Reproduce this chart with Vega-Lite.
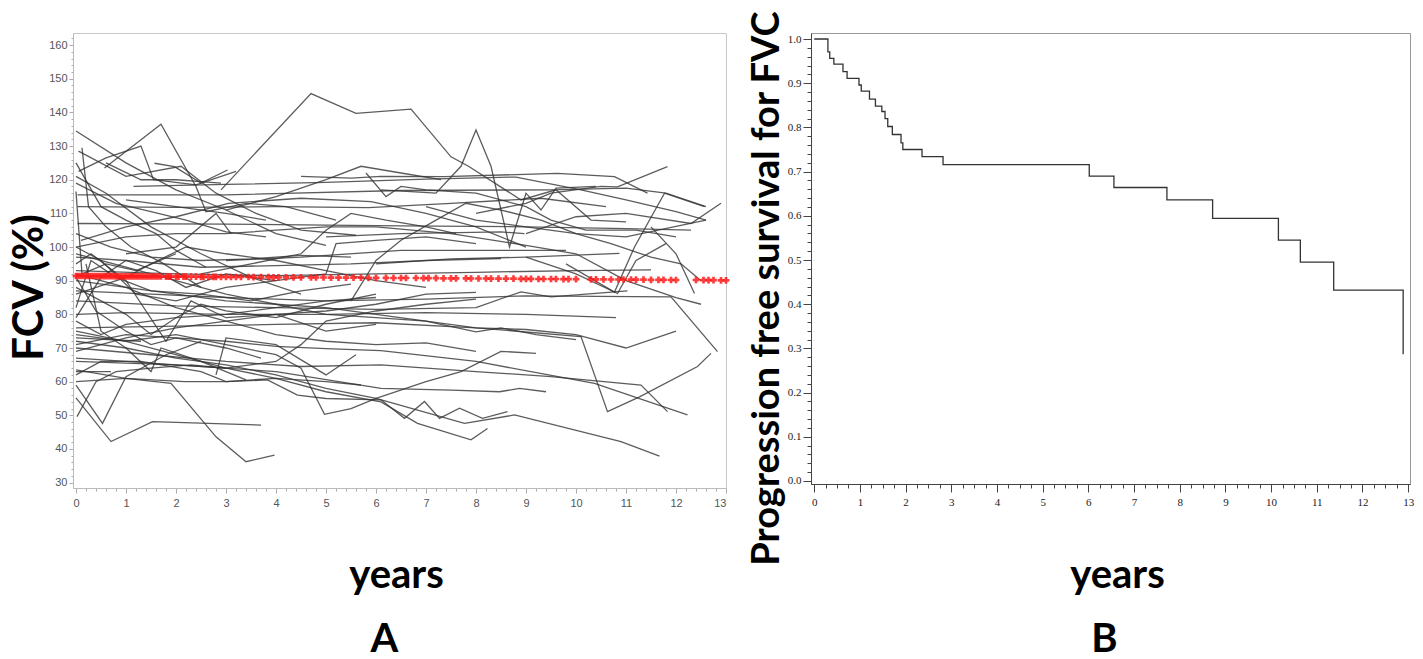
{
"$schema": "https://vega.github.io/schema/vega-lite/v6.json",
"background": "white",
"padding": {"left": 7, "top": 9, "right": 0, "bottom": 0},
"config": {"view": {"stroke": null}, "axis": {"grid": false}},
"spacing": 85,
"bounds": "flush",
"datasets": {
"lines": [
{"id":1,"t":0,"v":134.5},{"id":1,"t":1.0,"v":125},{"id":1,"t":2.0,"v":117},{"id":1,"t":3.0,"v":111},{"id":1,"t":4.0,"v":104},{"id":1,"t":5.0,"v":100.5},
{"id":2,"t":0.05,"v":122.5},{"id":2,"t":0.6,"v":126.5},{"id":2,"t":1.3,"v":130},{"id":2,"t":1.55,"v":120},{"id":2,"t":2.4,"v":118.5},{"id":2,"t":3.2,"v":122.5},
{"id":3,"t":0.57,"v":123.5},{"id":3,"t":1.7,"v":136.5},{"id":3,"t":2.4,"v":118},{"id":3,"t":2.6,"v":110.5},{"id":3,"t":3.4,"v":113},{"id":3,"t":4.2,"v":112},{"id":3,"t":5.2,"v":108},
{"id":4,"t":0.12,"v":129.5},{"id":4,"t":0.25,"v":112},{"id":4,"t":0.6,"v":106},{"id":4,"t":1.1,"v":100},{"id":4,"t":1.7,"v":95.5},{"id":4,"t":2.5,"v":88},
{"id":5,"t":0.05,"v":128.5},{"id":5,"t":1.0,"v":121},{"id":5,"t":2.1,"v":124},{"id":5,"t":2.8,"v":116},{"id":5,"t":3.6,"v":110},{"id":5,"t":4.5,"v":105},{"id":5,"t":5.6,"v":103.5},
{"id":6,"t":0.03,"v":115.5},{"id":6,"t":3.0,"v":115.5},{"id":6,"t":6.5,"v":116.8},{"id":6,"t":9.5,"v":117},{"id":6,"t":11.0,"v":117.5},{"id":6,"t":11.8,"v":116},{"id":6,"t":12.6,"v":112},
{"id":7,"t":1.15,"v":118},{"id":7,"t":3.0,"v":118.6},{"id":7,"t":5.0,"v":119.2},{"id":7,"t":7.0,"v":120.2},{"id":7,"t":8.8,"v":120.8},{"id":7,"t":10.1,"v":117},{"id":7,"t":11.0,"v":114},{"id":7,"t":12.0,"v":110.5},{"id":7,"t":12.6,"v":108},
{"id":8,"t":0.03,"v":112},{"id":8,"t":2.0,"v":111.8},{"id":8,"t":4.0,"v":112},{"id":8,"t":5.85,"v":111.7},{"id":8,"t":7.5,"v":113},{"id":8,"t":9.3,"v":114.5},{"id":8,"t":10.6,"v":112},
{"id":9,"t":0.03,"v":107},{"id":9,"t":3.0,"v":106.8},{"id":9,"t":6.5,"v":106.3},{"id":9,"t":9.0,"v":106},{"id":9,"t":11.0,"v":105.5},{"id":9,"t":12.3,"v":105},
{"id":10,"t":0.1,"v":102},{"id":10,"t":1.0,"v":106},{"id":10,"t":2.0,"v":109},{"id":10,"t":3.05,"v":113},{"id":10,"t":4.5,"v":114.5},{"id":10,"t":5.9,"v":113.5},{"id":10,"t":7.0,"v":110},{"id":10,"t":8.0,"v":106},{"id":10,"t":9.0,"v":100},
{"id":11,"t":1.57,"v":124.9},{"id":11,"t":1.97,"v":123.9},{"id":11,"t":2.5,"v":119},{"id":11,"t":3.03,"v":122.9},
{"id":12,"t":0,"v":119},{"id":12,"t":0.8,"v":113},{"id":12,"t":1.5,"v":110.5},{"id":12,"t":2.2,"v":108},{"id":12,"t":3.0,"v":104.5},{"id":12,"t":3.8,"v":103},
{"id":13,"t":0,"v":104},{"id":13,"t":0.7,"v":100},{"id":13,"t":1.5,"v":97},{"id":13,"t":2.5,"v":96},{"id":13,"t":3.5,"v":96.5},{"id":13,"t":4.5,"v":97.5},{"id":13,"t":5.5,"v":97},
{"id":14,"t":0,"v":116.5},{"id":14,"t":0.12,"v":92},{"id":14,"t":0.6,"v":95},{"id":14,"t":1.2,"v":93},{"id":14,"t":2.0,"v":98},
{"id":15,"t":2.9,"v":117},{"id":15,"t":4.7,"v":145.6},{"id":15,"t":5.6,"v":139.7},{"id":15,"t":6.7,"v":141},{"id":15,"t":7.5,"v":126.8},{"id":15,"t":7.85,"v":124},{"id":15,"t":8.9,"v":114},{"id":15,"t":9.6,"v":117},{"id":15,"t":10.3,"v":108},{"id":15,"t":11.0,"v":107.5},
{"id":16,"t":6.1,"v":117},{"id":16,"t":7.2,"v":116},{"id":16,"t":7.7,"v":124},{"id":16,"t":8.0,"v":134.8},{"id":16,"t":8.3,"v":124},{"id":16,"t":8.67,"v":100},{"id":16,"t":9.0,"v":116},{"id":16,"t":9.3,"v":111},{"id":16,"t":9.6,"v":117.5},{"id":16,"t":10.4,"v":118},
{"id":17,"t":4.5,"v":121},{"id":17,"t":5.5,"v":120.5},{"id":17,"t":6.1,"v":121},{"id":17,"t":7.37,"v":120.9},{"id":17,"t":9.63,"v":121.9},{"id":17,"t":10.77,"v":120.9},{"id":17,"t":11.43,"v":116},
{"id":18,"t":8.0,"v":110},{"id":18,"t":9.0,"v":113},{"id":18,"t":9.5,"v":116},{"id":18,"t":10.5,"v":118},{"id":18,"t":10.83,"v":117.9},{"id":18,"t":11.83,"v":123.9},
{"id":19,"t":9.8,"v":95},{"id":19,"t":10.77,"v":86.6},{"id":19,"t":11.17,"v":100},{"id":19,"t":11.77,"v":116},{"id":19,"t":12.57,"v":112},
{"id":20,"t":9.0,"v":104},{"id":20,"t":10.0,"v":109},{"id":20,"t":11.0,"v":110},{"id":20,"t":12.3,"v":107},{"id":20,"t":12.9,"v":113},
{"id":21,"t":5.0,"v":103},{"id":21,"t":6.5,"v":104},{"id":21,"t":8.5,"v":104.5},{"id":21,"t":8.97,"v":104},
{"id":22,"t":0,"v":97},{"id":22,"t":1.0,"v":96},{"id":22,"t":2.5,"v":94},{"id":22,"t":4.0,"v":94.5},{"id":22,"t":5.5,"v":95},{"id":22,"t":7.0,"v":96},{"id":22,"t":8.5,"v":96.6},
{"id":23,"t":0,"v":93},{"id":23,"t":2.0,"v":92},{"id":23,"t":4.0,"v":91.5},{"id":23,"t":6.0,"v":92},{"id":23,"t":8.0,"v":92.5},{"id":23,"t":10.0,"v":93},{"id":23,"t":11.5,"v":93.2},
{"id":24,"t":3.0,"v":96},{"id":24,"t":4.5,"v":97},{"id":24,"t":6.5,"v":99},{"id":24,"t":8.0,"v":99},{"id":24,"t":9.8,"v":99},
{"id":25,"t":6.0,"v":95},{"id":25,"t":7.5,"v":96.5},{"id":25,"t":9.0,"v":97},{"id":25,"t":10.87,"v":98.1},
{"id":26,"t":0,"v":87},{"id":26,"t":1.5,"v":86},{"id":26,"t":3.0,"v":85},{"id":26,"t":5.0,"v":84},{"id":26,"t":7.0,"v":84.5},{"id":26,"t":9.0,"v":85.5},{"id":26,"t":11.9,"v":85.2},{"id":26,"t":12.83,"v":68.9},
{"id":27,"t":0,"v":84},{"id":27,"t":2.0,"v":82.5},{"id":27,"t":4.0,"v":82},{"id":27,"t":6.0,"v":81.5},{"id":27,"t":8.0,"v":82},{"id":27,"t":8.9,"v":86.7},{"id":27,"t":9.5,"v":85.2},{"id":27,"t":11.03,"v":87},
{"id":28,"t":0,"v":80},{"id":28,"t":1.0,"v":80.5},{"id":28,"t":3.0,"v":80},{"id":28,"t":5.0,"v":80},{"id":28,"t":7.0,"v":80.5},{"id":28,"t":9.0,"v":80},{"id":28,"t":10.8,"v":79},
{"id":29,"t":0,"v":76},{"id":29,"t":2.0,"v":76.5},{"id":29,"t":4.0,"v":77},{"id":29,"t":6.0,"v":77.5},{"id":29,"t":8.0,"v":76},{"id":29,"t":10.1,"v":73.4},{"id":29,"t":10.63,"v":51.1},{"id":29,"t":11.27,"v":55.5},{"id":29,"t":12.43,"v":64.5},{"id":29,"t":12.7,"v":68.4},
{"id":30,"t":0,"v":73},{"id":30,"t":1.3,"v":72},
{"id":31,"t":0,"v":71},{"id":31,"t":1.0,"v":74},{"id":31,"t":2.0,"v":73},{"id":31,"t":3.0,"v":72},{"id":31,"t":4.0,"v":70.5},{"id":31,"t":5.0,"v":69.8},{"id":31,"t":6.1,"v":69.2},{"id":31,"t":8.0,"v":66},{"id":31,"t":10.37,"v":59.5},{"id":31,"t":12.23,"v":50.1},
{"id":32,"t":0,"v":70},{"id":32,"t":1.5,"v":68},{"id":32,"t":3.0,"v":66},{"id":32,"t":4.5,"v":64.5},{"id":32,"t":6.1,"v":65},{"id":32,"t":8.0,"v":63},{"id":32,"t":9.5,"v":61.5},{"id":32,"t":11.3,"v":59},{"id":32,"t":11.83,"v":51.1},
{"id":33,"t":0,"v":63},{"id":33,"t":0.7,"v":63},
{"id":34,"t":0,"v":62},{"id":34,"t":0.5,"v":66},{"id":34,"t":1.3,"v":66},{"id":34,"t":2.5,"v":63},{"id":34,"t":3.0,"v":60},{"id":34,"t":4.0,"v":61},{"id":34,"t":5.0,"v":60},{"id":34,"t":5.7,"v":59},
{"id":35,"t":0,"v":55.2},{"id":35,"t":0.7,"v":42.2},{"id":35,"t":1.53,"v":48.1},{"id":35,"t":3.7,"v":47.1},
{"id":36,"t":0,"v":63.5},{"id":36,"t":1.0,"v":61},{"id":36,"t":1.9,"v":59.5},{"id":36,"t":2.8,"v":43.6},{"id":36,"t":3.4,"v":36.2},{"id":36,"t":3.97,"v":38.2},
{"id":37,"t":0.02,"v":49.6},{"id":37,"t":0.4,"v":60},{"id":37,"t":0.8,"v":63},{"id":37,"t":1.5,"v":64},{"id":37,"t":2.3,"v":65},{"id":37,"t":3.0,"v":64},
{"id":38,"t":0,"v":59},{"id":38,"t":0.53,"v":47.6},{"id":38,"t":1.0,"v":61.5},{"id":38,"t":1.8,"v":68},{"id":38,"t":2.5,"v":72},
{"id":39,"t":0,"v":60},{"id":39,"t":1.0,"v":61},{"id":39,"t":2.17,"v":60},{"id":39,"t":3.0,"v":60},{"id":39,"t":3.83,"v":60.5},{"id":39,"t":4.43,"v":56},{"id":39,"t":5.0,"v":55},{"id":39,"t":6.1,"v":54.6},{"id":39,"t":6.57,"v":49.1},{"id":39,"t":6.97,"v":54.1},{"id":39,"t":7.27,"v":49.1},{"id":39,"t":7.67,"v":52.1},{"id":39,"t":8.13,"v":49.1},{"id":39,"t":8.63,"v":51.1},
{"id":40,"t":0,"v":67},{"id":40,"t":1.0,"v":66},{"id":40,"t":2.0,"v":65},{"id":40,"t":3.0,"v":64},{"id":40,"t":4.0,"v":61},{"id":40,"t":5.0,"v":57},{"id":40,"t":6.1,"v":54},{"id":40,"t":6.83,"v":47.6},{"id":40,"t":7.9,"v":42.7},{"id":40,"t":8.23,"v":46.1},
{"id":41,"t":0,"v":72},{"id":41,"t":1.0,"v":70},{"id":41,"t":2.0,"v":67},{"id":41,"t":3.0,"v":65},{"id":41,"t":4.0,"v":62},{"id":41,"t":5.0,"v":58},{"id":41,"t":6.0,"v":55},{"id":41,"t":7.77,"v":47.6},{"id":41,"t":8.77,"v":50.1},{"id":41,"t":10.9,"v":42.2},{"id":41,"t":11.67,"v":37.9},
{"id":42,"t":0,"v":66},{"id":42,"t":2.0,"v":65},{"id":42,"t":4.0,"v":63},{"id":42,"t":6.1,"v":58},{"id":42,"t":7.5,"v":57.5},{"id":42,"t":8.47,"v":57},{"id":42,"t":8.87,"v":58},{"id":42,"t":9.4,"v":57},
{"id":43,"t":0,"v":75},{"id":43,"t":1.0,"v":72},{"id":43,"t":2.0,"v":74},{"id":43,"t":3.0,"v":71},{"id":43,"t":4.0,"v":68},{"id":43,"t":4.5,"v":64},{"id":43,"t":4.97,"v":50.3},{"id":43,"t":5.5,"v":52},{"id":43,"t":6.0,"v":55},{"id":43,"t":7.0,"v":60},{"id":43,"t":7.7,"v":63},{"id":43,"t":8.5,"v":69},{"id":43,"t":9.2,"v":68.4},
{"id":44,"t":2.8,"v":62},{"id":44,"t":3.0,"v":73},{"id":44,"t":4.0,"v":71},{"id":44,"t":5.0,"v":62},{"id":44,"t":5.6,"v":68},
{"id":45,"t":0,"v":90},{"id":45,"t":1.0,"v":88},{"id":45,"t":2.0,"v":86},{"id":45,"t":3.0,"v":84},{"id":45,"t":4.0,"v":83},{"id":45,"t":5.0,"v":82},{"id":45,"t":6.0,"v":80},{"id":45,"t":7.0,"v":78},{"id":45,"t":8.0,"v":74.8},{"id":45,"t":8.5,"v":76},{"id":45,"t":9.2,"v":74},{"id":45,"t":10.0,"v":72.5},
{"id":46,"t":0,"v":95},{"id":46,"t":0.3,"v":98},{"id":46,"t":1.0,"v":90},{"id":46,"t":1.8,"v":72},{"id":46,"t":2.3,"v":84},{"id":46,"t":3.0,"v":79},{"id":46,"t":4.0,"v":80},{"id":46,"t":5.0,"v":75},{"id":46,"t":6.0,"v":77},
{"id":47,"t":0,"v":100},{"id":47,"t":0.5,"v":96},{"id":47,"t":1.2,"v":86},{"id":47,"t":2.0,"v":84},{"id":47,"t":3.0,"v":88},{"id":47,"t":4.0,"v":90},{"id":47,"t":5.0,"v":92},{"id":47,"t":5.2,"v":101},{"id":47,"t":6.0,"v":102},{"id":47,"t":7.0,"v":103},{"id":47,"t":8.0,"v":101},
{"id":48,"t":0,"v":88},{"id":48,"t":0.5,"v":84},{"id":48,"t":1.0,"v":80},{"id":48,"t":1.5,"v":74},{"id":48,"t":2.0,"v":79},{"id":48,"t":2.5,"v":83},{"id":48,"t":3.0,"v":81},{"id":48,"t":4.0,"v":79},{"id":48,"t":5.0,"v":83},{"id":48,"t":6.0,"v":86},
{"id":49,"t":0,"v":82},{"id":49,"t":0.3,"v":96},{"id":49,"t":0.8,"v":91},{"id":49,"t":1.5,"v":87},{"id":49,"t":2.5,"v":86},{"id":49,"t":3.5,"v":84},{"id":49,"t":4.5,"v":87},{"id":49,"t":5.5,"v":89},
{"id":50,"t":0,"v":78},{"id":50,"t":0.5,"v":74},{"id":50,"t":1.0,"v":77},{"id":50,"t":2.0,"v":79},{"id":50,"t":3.0,"v":80},{"id":50,"t":4.0,"v":82},{"id":50,"t":5.0,"v":84},{"id":50,"t":6.0,"v":85},
{"id":51,"t":0,"v":74},{"id":51,"t":1.0,"v":72},{"id":51,"t":2.0,"v":68},{"id":51,"t":3.0,"v":64},{"id":51,"t":4.0,"v":66},{"id":51,"t":4.5,"v":71},{"id":51,"t":5.0,"v":78},{"id":51,"t":6.0,"v":81},{"id":51,"t":7.0,"v":83},{"id":51,"t":8.0,"v":84.5},
{"id":52,"t":0,"v":98},{"id":52,"t":1.0,"v":94},{"id":52,"t":2.0,"v":90},{"id":52,"t":3.0,"v":86},{"id":52,"t":4.0,"v":83},{"id":52,"t":5.0,"v":80},{"id":52,"t":6.0,"v":79},{"id":52,"t":7.0,"v":78},{"id":52,"t":8.0,"v":76},{"id":52,"t":9.0,"v":75.5},{"id":52,"t":10.0,"v":74},{"id":52,"t":11.0,"v":70},{"id":52,"t":12.0,"v":75},
{"id":53,"t":0,"v":69},{"id":53,"t":0.5,"v":71},{"id":53,"t":1.0,"v":73},{"id":53,"t":2.0,"v":76},{"id":53,"t":3.0,"v":78},{"id":53,"t":4.0,"v":80},{"id":53,"t":5.0,"v":81},{"id":53,"t":6.0,"v":83},{"id":53,"t":7.0,"v":86},{"id":53,"t":8.0,"v":86.5},
{"id":54,"t":0,"v":92},{"id":54,"t":1.0,"v":88},{"id":54,"t":2.0,"v":82},{"id":54,"t":3.0,"v":78},{"id":54,"t":4.0,"v":74},{"id":54,"t":5.0,"v":72},{"id":54,"t":6.0,"v":71},{"id":54,"t":7.0,"v":71.5},{"id":54,"t":8.0,"v":69},
{"id":55,"t":0,"v":86},{"id":55,"t":1.0,"v":91},{"id":55,"t":1.5,"v":95},{"id":55,"t":2.2,"v":100},{"id":55,"t":3.0,"v":98},{"id":55,"t":4.0,"v":96},{"id":55,"t":5.0,"v":93},{"id":55,"t":6.0,"v":90},{"id":55,"t":7.0,"v":88},
{"id":56,"t":0.2,"v":95},{"id":56,"t":0.5,"v":75},{"id":56,"t":1.0,"v":70},{"id":56,"t":1.5,"v":63},{"id":56,"t":1.7,"v":70},{"id":56,"t":2.5,"v":66},{"id":56,"t":3.4,"v":60.5},
{"id":57,"t":0,"v":100},{"id":57,"t":1.0,"v":103},{"id":57,"t":2.0,"v":104},{"id":57,"t":3.0,"v":104},{"id":57,"t":4.0,"v":105},{"id":57,"t":5.0,"v":106},{"id":57,"t":6.0,"v":106},{"id":57,"t":7.5,"v":104},{"id":57,"t":9.0,"v":100.5},{"id":57,"t":10.0,"v":98},{"id":57,"t":11.0,"v":90},{"id":57,"t":12.0,"v":85},{"id":57,"t":12.5,"v":83},
{"id":58,"t":5.5,"v":84},{"id":58,"t":6.0,"v":96},{"id":58,"t":6.5,"v":102},{"id":58,"t":7.2,"v":108},{"id":58,"t":7.8,"v":113},{"id":58,"t":8.5,"v":111},{"id":58,"t":9.3,"v":108},{"id":58,"t":10.0,"v":104},{"id":58,"t":10.7,"v":101},{"id":58,"t":11.5,"v":97},{"id":58,"t":12.1,"v":95},{"id":58,"t":12.5,"v":90},
{"id":59,"t":0.6,"v":125},{"id":59,"t":1.3,"v":120},{"id":59,"t":2.0,"v":120},{"id":59,"t":2.9,"v":119},
{"id":60,"t":3.0,"v":111},{"id":60,"t":4.0,"v":115},{"id":60,"t":5.0,"v":120},{"id":60,"t":5.7,"v":124},{"id":60,"t":6.5,"v":122},{"id":60,"t":7.3,"v":120},
{"id":61,"t":5.8,"v":122},{"id":61,"t":6.2,"v":115},{"id":61,"t":6.5,"v":118},{"id":61,"t":7.0,"v":117},{"id":61,"t":8.0,"v":116},{"id":61,"t":9.0,"v":112},{"id":61,"t":9.5,"v":108},{"id":61,"t":10.2,"v":105},{"id":61,"t":11.2,"v":105},{"id":61,"t":12.0,"v":103},
{"id":62,"t":2.5,"v":92},{"id":62,"t":3.5,"v":95},{"id":62,"t":4.5,"v":98},{"id":62,"t":5.0,"v":105},{"id":62,"t":5.5,"v":110},{"id":62,"t":6.2,"v":108},{"id":62,"t":7.0,"v":106},{"id":62,"t":7.6,"v":104},
{"id":63,"t":1.0,"v":98},{"id":63,"t":2.0,"v":100},{"id":63,"t":2.8,"v":110},{"id":63,"t":3.1,"v":104},
{"id":64,"t":0,"v":125},{"id":64,"t":0.5,"v":112},{"id":64,"t":1.0,"v":108},{"id":64,"t":1.6,"v":104},{"id":64,"t":2.0,"v":99},{"id":64,"t":2.6,"v":94},
{"id":65,"t":0,"v":121},{"id":65,"t":0.6,"v":116},{"id":65,"t":1.5,"v":106},{"id":65,"t":2.5,"v":98},{"id":65,"t":3.5,"v":91},{"id":65,"t":4.5,"v":86},
{"id":66,"t":0,"v":79},{"id":66,"t":0.5,"v":91},{"id":66,"t":1.0,"v":96},{"id":66,"t":1.6,"v":93},{"id":66,"t":2.2,"v":88},{"id":66,"t":3.0,"v":92},{"id":66,"t":4.0,"v":90},
{"id":67,"t":0,"v":91},{"id":67,"t":0.4,"v":81},{"id":67,"t":1.0,"v":75},{"id":67,"t":1.5,"v":71},{"id":67,"t":2.0,"v":73},{"id":67,"t":3.0,"v":70},{"id":67,"t":3.7,"v":67},
{"id":68,"t":1.0,"v":114},{"id":68,"t":2.0,"v":112},{"id":68,"t":3.0,"v":110},{"id":68,"t":3.8,"v":108},
{"id":69,"t":7.0,"v":112},{"id":69,"t":8.0,"v":108},{"id":69,"t":9.0,"v":106},{"id":69,"t":10.0,"v":104},{"id":69,"t":11.0,"v":103},{"id":69,"t":12.6,"v":108},
{"id":70,"t":9.0,"v":97},{"id":70,"t":10.0,"v":92},{"id":70,"t":10.83,"v":86.2},{"id":70,"t":11.2,"v":96},{"id":70,"t":11.8,"v":101},
{"id":71,"t":11.5,"v":106},{"id":71,"t":12.0,"v":98},{"id":71,"t":12.37,"v":86.2}
],
"red": [
{"t":0,"v":91.4},{"t":0.05,"v":91.4},{"t":0.1,"v":91.4},{"t":0.15,"v":91.4},{"t":0.2,"v":91.4},{"t":0.25,"v":91.4},{"t":0.3,"v":91.4},{"t":0.35,"v":91.4},{"t":0.4,"v":91.4},{"t":0.45,"v":91.4},
{"t":0.5,"v":91.35},{"t":0.55,"v":91.35},{"t":0.6,"v":91.35},{"t":0.65,"v":91.35},{"t":0.7,"v":91.35},{"t":0.75,"v":91.35},{"t":0.8,"v":91.3},{"t":0.85,"v":91.3},{"t":0.9,"v":91.3},{"t":0.95,"v":91.3},
{"t":1.0,"v":91.3},{"t":1.05,"v":91.3},{"t":1.1,"v":91.3},{"t":1.15,"v":91.3},{"t":1.2,"v":91.3},{"t":1.25,"v":91.3},{"t":1.3,"v":91.3},{"t":1.35,"v":91.3},{"t":1.4,"v":91.25},{"t":1.45,"v":91.25},
{"t":1.5,"v":91.25},{"t":1.55,"v":91.25},{"t":1.6,"v":91.25},{"t":1.65,"v":91.25},{"t":1.7,"v":91.25},{"t":1.8,"v":91.2},{"t":1.85,"v":91.2},{"t":1.9,"v":91.2},{"t":2.0,"v":91.2},{"t":2.05,"v":91.2},
{"t":2.15,"v":91.2},{"t":2.2,"v":91.2},{"t":2.3,"v":91.2},{"t":2.4,"v":91.2},{"t":2.5,"v":91.15},{"t":2.55,"v":91.15},{"t":2.65,"v":91.15},{"t":2.75,"v":91.15},{"t":2.8,"v":91.15},{"t":2.9,"v":91.1},
{"t":3.0,"v":91.1},{"t":3.1,"v":91.1},{"t":3.2,"v":91.1},{"t":3.3,"v":91.1},{"t":3.45,"v":91.1},{"t":3.55,"v":91.05},{"t":3.7,"v":91.05},{"t":3.85,"v":91.05},{"t":3.95,"v":91.0},{"t":4.05,"v":91.0},
{"t":4.2,"v":91.0},{"t":4.35,"v":91.0},{"t":4.5,"v":91.0},{"t":4.7,"v":90.95},{"t":4.8,"v":90.95},{"t":4.95,"v":90.95},{"t":5.1,"v":90.9},{"t":5.25,"v":90.9},{"t":5.4,"v":90.9},{"t":5.55,"v":90.9},
{"t":5.7,"v":90.9},{"t":5.85,"v":90.85},{"t":6.0,"v":90.85},{"t":6.2,"v":90.85},{"t":6.35,"v":90.8},{"t":6.5,"v":90.8},{"t":6.6,"v":90.8},{"t":6.8,"v":90.8},{"t":6.95,"v":90.75},{"t":7.05,"v":90.75},
{"t":7.2,"v":90.75},{"t":7.35,"v":90.7},{"t":7.5,"v":90.7},{"t":7.6,"v":90.7},{"t":7.8,"v":90.7},{"t":7.9,"v":90.65},{"t":8.05,"v":90.65},{"t":8.2,"v":90.65},{"t":8.3,"v":90.6},{"t":8.45,"v":90.6},
{"t":8.6,"v":90.6},{"t":8.75,"v":90.6},{"t":8.9,"v":90.55},{"t":9.0,"v":90.55},{"t":9.1,"v":90.55},{"t":9.25,"v":90.5},{"t":9.35,"v":90.5},{"t":9.5,"v":90.5},{"t":9.6,"v":90.5},{"t":9.75,"v":90.45},
{"t":9.85,"v":90.45},{"t":10.0,"v":90.45},{"t":10.3,"v":90.4},{"t":10.4,"v":90.4},{"t":10.55,"v":90.4},{"t":10.7,"v":90.35},{"t":10.85,"v":90.35},{"t":10.95,"v":90.35},{"t":11.1,"v":90.3},{"t":11.2,"v":90.3},
{"t":11.35,"v":90.3},{"t":11.5,"v":90.25},{"t":11.65,"v":90.25},{"t":11.75,"v":90.25},{"t":11.9,"v":90.2},{"t":12.0,"v":90.2},{"t":12.4,"v":90.2},{"t":12.55,"v":90.15},{"t":12.65,"v":90.15},{"t":12.75,"v":90.15},
{"t":12.9,"v":90.1},{"t":13.0,"v":90.1}
],
"km": [
{"t":0,"s":1.0},{"t":0.30,"s":0.971},{"t":0.34,"s":0.956},{"t":0.43,"s":0.943},{"t":0.63,"s":0.926},{"t":0.72,"s":0.911},{"t":0.98,"s":0.896},{"t":1.03,"s":0.882},{"t":1.21,"s":0.864},{"t":1.34,"s":0.848},
{"t":1.48,"s":0.836},{"t":1.55,"s":0.82},{"t":1.61,"s":0.802},{"t":1.71,"s":0.784},{"t":1.90,"s":0.765},{"t":1.94,"s":0.75},{"t":2.36,"s":0.734},{"t":2.82,"s":0.716},{"t":6.02,"s":0.69},{"t":6.56,"s":0.664},
{"t":7.72,"s":0.636},{"t":8.72,"s":0.594},{"t":10.16,"s":0.545},{"t":10.64,"s":0.495},{"t":11.37,"s":0.432},{"t":12.89,"s":0.287}
]
},
"hconcat": [
{
"width": 653,
"height": 455,
"view": {"stroke": "#c8c8c8", "strokeWidth": 1},
"title": {"text": "A", "orient": "bottom", "font": "Lato", "fontSize": 40, "fontWeight": "bold", "color": "black", "dx": -15, "offset": 25},
"encoding": {
"x": {"field": "t", "type": "quantitative", "scale": {"domain": [-0.06, 13], "nice": false, "zero": false},
"axis": {"title": "years", "titleFont": "Lato", "titleFontSize": 40, "titleFontWeight": "bold", "titleColor": "black", "titleX": 323, "titleY": 99, "titleBaseline": "alphabetic", "titleAlign": "center",
"tickCount": 65, "labelExpr": "datum.value % 1 === 0 ? format(abs(datum.value), 'd') : ''", "labelOverlap": false, "labelFont": "Liberation Sans", "labelFontSize": 11, "labelColor": "#555", "labelPadding": 4,
"tickColor": "#aaa", "tickSize": {"condition": {"test": "datum.value % 1 === 0", "value": 5}, "value": 3}, "domainColor": "#bbb", "grid": false}},
"y": {"field": "v", "type": "quantitative", "scale": {"domain": [28.4, 163.6], "nice": false, "zero": false},
"axis": {"title": "FCV (%)", "titleFont": "Lato", "titleFontSize": 42, "titleFontWeight": "bold", "titleColor": "black", "titleX": -31, "titleY": 254, "titleBaseline": "alphabetic", "titleAlign": "center", "titleAngle": -90,
"tickCount": 68, "labelExpr": "datum.value % 10 === 0 ? format(datum.value, 'd') : ''", "labelOverlap": false, "labelFont": "Liberation Sans", "labelFontSize": 11, "labelColor": "#555", "labelPadding": 2,
"tickColor": "#aaa", "tickSize": {"condition": {"test": "datum.value % 10 === 0", "value": 4}, "value": 2}, "domainColor": "#bbb", "grid": false}}
},
"layer": [
{"data": {"name": "lines"}, "mark": {"type": "line", "color": "#333333", "strokeWidth": 1.3, "opacity": 0.8}, "encoding": {"detail": {"field": "id", "type": "nominal"}}},
{"data": {"name": "red"}, "mark": {"type": "point", "shape": "cross", "filled": true, "color": "#ff1a1a", "size": 45, "opacity": 0.85}}
]
},
{
"width": 599,
"height": 451,
"view": {"stroke": "#999", "strokeWidth": 1},
"title": {"text": "B", "orient": "bottom", "font": "Lato", "fontSize": 40, "fontWeight": "bold", "color": "black", "dx": -6, "offset": 25},
"data": {"name": "km"},
"mark": {"type": "line", "interpolate": "step-after", "color": "#333", "strokeWidth": 1.3},
"encoding": {
"x": {"field": "t", "type": "quantitative", "scale": {"domain": [-0.07, 13.04], "nice": false, "zero": false},
"axis": {"title": "years", "titleFont": "Lato", "titleFontSize": 40, "titleFontWeight": "bold", "titleColor": "black", "titleX": 306, "titleY": 103, "titleBaseline": "alphabetic", "titleAlign": "center",
"values": [0,0.25,0.5,0.75,1,1.25,1.5,1.75,2,2.25,2.5,2.75,3,3.25,3.5,3.75,4,4.25,4.5,4.75,5,5.25,5.5,5.75,6,6.25,6.5,6.75,7,7.25,7.5,7.75,8,8.25,8.5,8.75,9,9.25,9.5,9.75,10,10.25,10.5,10.75,11,11.25,11.5,11.75,12,12.25,12.5,12.75,13],
"labelExpr": "datum.value % 1 === 0 ? format(datum.value, 'd') : ''", "labelOverlap": false, "labelFont": "Liberation Serif", "labelFontSize": 11, "labelColor": "#222", "labelPadding": 4,
"tickColor": "#444", "tickSize": {"condition": {"test": "datum.value % 1 === 0", "value": 8}, "value": 4}, "domainColor": "#444", "grid": false}},
"y": {"field": "s", "type": "quantitative", "scale": {"domain": [-0.0068, 1.0136], "nice": false, "zero": false},
"axis": {"title": "Progression free survival for FVC", "titleFont": "Lato", "titleFontSize": 38, "titleFontWeight": "bold", "titleColor": "black", "titleX": -33, "titleY": 255, "titleBaseline": "alphabetic", "titleAlign": "center", "titleAngle": -90,
"tickCount": 51, "labelExpr": "abs(round(datum.value * 10) - datum.value * 10) < 0.000001 ? format(abs(datum.value), '.1f') : ''", "labelOverlap": false, "labelFont": "Liberation Serif", "labelFontSize": 11, "labelColor": "#222", "labelPadding": 2,
"tickColor": "#444", "tickSize": {"condition": {"test": "abs(round(datum.value * 10) - datum.value * 10) < 0.000001", "value": 8}, "value": 4}, "domainColor": "#444", "grid": false}}
}
}
]
}
